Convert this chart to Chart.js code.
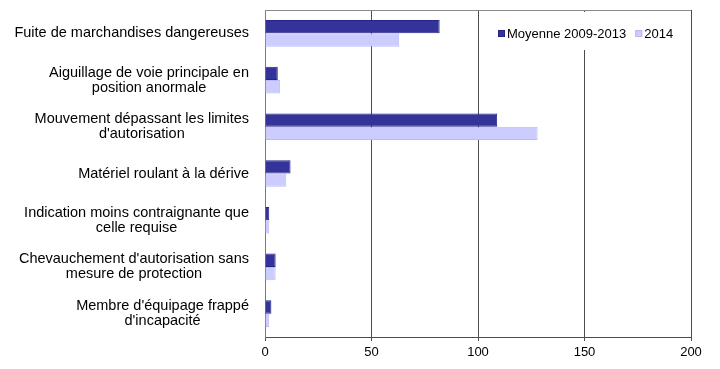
<!DOCTYPE html>
<html>
<head>
<meta charset="utf-8">
<script src="https://cdn.jsdelivr.net/npm/chart.js@4.4.1/dist/chart.umd.min.js"></script>
<style>
  html, body { margin: 0; padding: 0; background: #fff; }
  #wrap { width: 720px; height: 369px; position: relative; }
</style>
</head>
<body>
<div id="wrap"><canvas id="incidents" width="720" height="369"></canvas></div>
<script>
const categories = [
  'Fuite de marchandises dangereuses',
  ['Aiguillage de voie principale en', 'position anormale'],
  ['Mouvement dépassant les limites', "d'autorisation"],
  'Matériel roulant à la dérive',
  ['Indication moins contraignante que', 'celle requise'],
  ["Chevauchement d'autorisation sans", 'mesure de protection'],
  ["Membre d'équipage frappé", "d'incapacité"]
];
const seriesNames = ['Moyenne 2009-2013', '2014'];
const moyenne = [82, 6, 109, 12, 2, 5, 3];
const annee2014 = [63, 7, 128, 10, 2, 5, 2];
const xTicks = [0, 50, 100, 150, 200];

const FONT = "'Liberation Sans', Arial, sans-serif";

// category labels: block right-aligned to the axis, lines centred within the block
const catLabels = {
  id: 'catLabels',
  afterDraw(chart) {
    const ctx = chart.ctx;
    const yScale = chart.scales.y;
    const right = chart.chartArea.left - 16;
    ctx.save();
    ctx.font = '14.5px ' + FONT;
    ctx.fillStyle = '#000';
    ctx.textAlign = 'center';
    ctx.textBaseline = 'middle';
    chart.data.labels.forEach((lab, i) => {
      const lines = Array.isArray(lab) ? lab : [lab];
      const w = Math.max(...lines.map(l => ctx.measureText(l).width));
      const cx = right - w / 2;
      const cy = yScale.getPixelForTick(i);
      const lh = 15;
      lines.forEach((l, j) => {
        ctx.fillText(l, cx, cy + (j - (lines.length - 1) / 2) * lh);
      });
    });
    ctx.restore();
  }
};

// legend drawn inside the plot, white box over the grid lines
const boxLegend = {
  id: 'boxLegend',
  afterDatasetsDraw(chart) {
    const ctx = chart.ctx;
    const area = chart.chartArea;
    ctx.save();
    // top frame line
    ctx.strokeStyle = '#8a8a8a';
    ctx.lineWidth = 1;
    ctx.beginPath();
    ctx.moveTo(area.left, area.top + 0.5);
    ctx.lineTo(area.right, area.top + 0.5);
    ctx.stroke();

    ctx.fillStyle = '#fff';
    ctx.fillRect(492, area.top + 2, 192, 38);
    ctx.font = '13px ' + FONT;
    ctx.textBaseline = 'middle';
    let x = 498;
    const y = 34;
    chart.data.datasets.forEach(ds => {
      ctx.fillStyle = ds.backgroundColor;
      ctx.fillRect(x, y - 4, 7, 7);
      ctx.strokeStyle = ds.borderColor;
      ctx.strokeRect(x + 0.5, y - 3.5, 6, 6);
      ctx.fillStyle = '#000';
      ctx.fillText(ds.label, x + 9, y);
      x += 9 + ctx.measureText(ds.label).width + 9;
    });
    ctx.restore();
  }
};

new Chart(document.getElementById('incidents'), {
  type: 'bar',
  data: {
    labels: categories,
    datasets: [{
      label: seriesNames[0],
      data: moyenne,
      backgroundColor: '#333399',
      borderColor: '#24248a',
      borderWidth: 1,
      borderSkipped: 'start'
    }, {
      label: seriesNames[1],
      data: annee2014,
      backgroundColor: '#ccccff',
      borderColor: '#babaf2',
      borderWidth: 1,
      borderSkipped: 'start'
    }]
  },
  options: {
    indexAxis: 'y',
    responsive: false,
    animation: false,
    devicePixelRatio: 1,
    categoryPercentage: 0.57,
    barPercentage: 1,
    layout: { padding: { top: 10, right: 29, bottom: 0, left: 0 } },
    plugins: {
      legend: { display: false },
      tooltip: { enabled: false }
    },
    scales: {
      x: {
        min: 0,
        max: 200,
        afterBuildTicks: s => { s.ticks = xTicks.map(v => ({ value: v })); },
        afterFit: s => { s.height = 32; s.paddingLeft = 0; s.paddingRight = 0; },
        grid: { color: '#4d4d4d', lineWidth: 1, drawTicks: true, tickLength: 4, tickColor: '#4d4d4d' },
        border: { display: true, color: '#4d4d4d' },
        ticks: { color: '#000', padding: 4, font: { family: FONT, size: 13 } }
      },
      y: {
        afterFit: s => { s.width = 265; s.paddingTop = 0; s.paddingBottom = 0; },
        grid: { display: false, drawTicks: false },
        border: { display: true, color: '#7a7a7a' },
        ticks: { display: false }
      }
    }
  },
  plugins: [boxLegend, catLabels]
});
</script>
</body>
</html>
